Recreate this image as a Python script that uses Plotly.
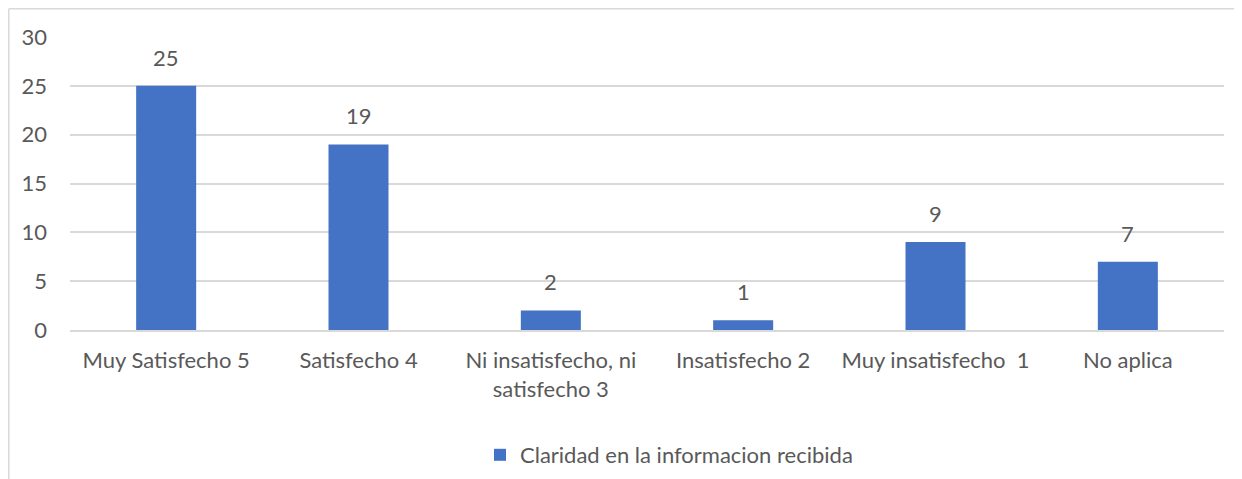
import plotly.graph_objects as go

categories = ["Muy Satisfecho 5", "Satisfecho 4", "Ni insatisfecho, ni<br>satisfecho 3",
              "Insatisfecho 2", "Muy insatisfecho  1", "No aplica"]
values = [25, 19, 2, 1, 9, 7]
series_name = "Claridad en la informacion recibida"
y_ticks = [0, 5, 10, 15, 20, 25, 30]

FONT = "Lato"
TXT = "#595959"
FS = 22

fig = go.Figure()
fig.add_trace(go.Bar(x=categories, y=values, name=series_name,
                     marker=dict(color="#4472c4", line=dict(width=0))))

for c, v in zip(categories, values):
    fig.add_annotation(x=c, y=v, text=str(v), showarrow=False, yanchor="bottom",
                       yshift=13, font=dict(family=FONT, size=FS, color=TXT))

# The page body adds an 8px offset; margins compensate for it.
W, H = 1242, 479
L, R, T, B = 62, 26, 29, 157
pw, ph = W - L - R, H - T - B
x0 = 1 / pw * -0.0 + (0.8 - L) / pw
y0 = (H - 0.8 - B) / ph
fig.add_shape(type="line", xref="paper", yref="paper", x0=x0, x1=(W + 5 - L) / pw, y0=y0, y1=y0,
              line=dict(color="#d9d9d9", width=1.5))
fig.add_shape(type="line", xref="paper", yref="paper", x0=x0, x1=x0, y0=y0, y1=(-5 - B) / ph,
              line=dict(color="#d9d9d9", width=1.5))

fig.update_layout(
    width=W, height=H,
    margin=dict(l=L, r=R, t=T, b=B, autoexpand=False),
    paper_bgcolor="white", plot_bgcolor="white",
    bargap=0.688,
    font=dict(family=FONT, size=FS, color=TXT),
    showlegend=True,
    legend=dict(orientation="h", x=(480 - 70) / pw, xanchor="left", y=-125 / ph, yanchor="middle",
                font=dict(family=FONT, size=FS, color=TXT), itemwidth=30),
    xaxis=dict(showgrid=False, showline=True, linecolor="#d9d9d9", linewidth=1.5,
               ticks="", ticklabelstandoff=10, tickfont=dict(family=FONT, size=FS, color=TXT)),
    yaxis=dict(range=[0, 30], tickvals=y_ticks, showgrid=True, gridcolor="#d9d9d9", gridwidth=1.5,
               zeroline=False, showline=False, ticks="", ticklabelstandoff=22,
               tickfont=dict(family=FONT, size=FS, color=TXT)),
)

fig.write_html("out.html")
